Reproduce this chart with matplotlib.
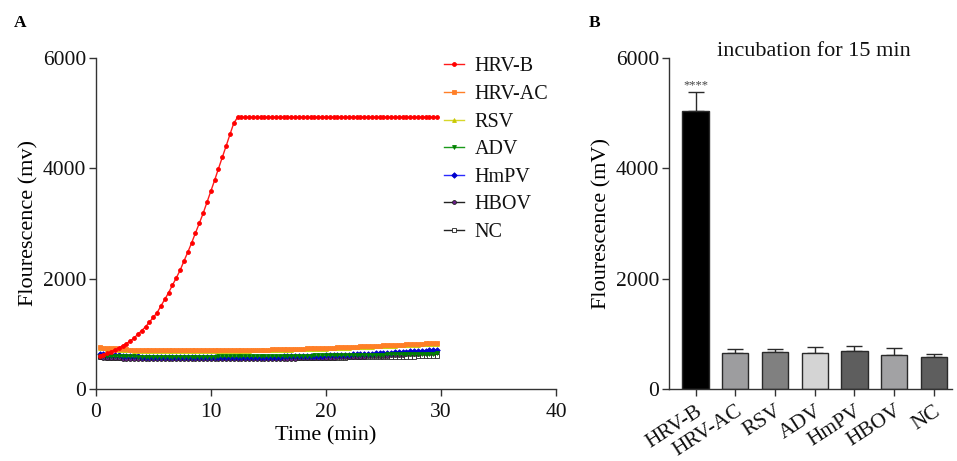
import numpy as np
import matplotlib
matplotlib.use("Agg")
import matplotlib.pyplot as plt

plt.rcParams['font.family'] = ['Liberation Serif', 'DejaVu Serif']

# ---------------- Panel A data ----------------
time_min = np.arange(1, 90) / 3.0   # sampling every 20 s

hrv_b = [605, 625, 650, 680, 710, 745, 785, 825, 870, 925,
         993, 1060, 1128, 1213, 1297, 1383, 1505, 1623, 1745, 1880,
         2012, 2150, 2317, 2477, 2645, 2825, 3000, 3180, 3380, 3580,
         3780, 3990, 4195, 4400, 4610, 4815, 4920] + [4920] * 52

hrv_ac = [755, 750, 745, 740, 735, 730, 725, 720, 715,
          710, 708, 706, 705, 704, 703, 702, 701, 700, 700, 700, 700, 700, 700, 700, 700,
          700, 700, 700, 700, 700, 701, 702, 703, 704, 705, 706, 707, 708, 709, 710, 711,
          712, 713, 714, 715,
          717, 719, 721, 723, 725, 727, 729, 731, 733, 735, 737, 739, 741, 743, 745,
          748, 751, 754, 757, 760, 763, 766, 769, 772, 775, 778, 781, 784, 787, 790,
          794, 797, 800, 804, 807, 811, 814, 818, 821, 825, 828, 832, 836, 840]

rsv = [740, 735, 730, 725, 720, 715, 710, 705, 700,
       697, 695, 693, 692, 691, 690, 689, 688, 688, 688, 688, 688, 688, 688, 688, 688,
       688, 688, 688, 688, 688, 689, 690, 691, 692, 693, 694, 695, 696, 697, 698, 699,
       700, 701, 702, 703,
       705, 707, 709, 711, 713, 715, 717, 719, 721, 723, 725, 727, 729, 731, 733,
       736, 739, 742, 745, 748, 751, 754, 757, 760, 763, 766, 769, 772, 775, 778,
       781, 784, 787, 790, 793, 796, 799, 802, 805, 808, 811, 814, 817, 820]

adv = [600, 598, 596, 595, 594, 593, 592, 591, 590,
       590, 589, 589, 588, 588, 588, 588, 588, 588, 588, 588, 588, 588, 588, 588, 588,
       588, 588, 588, 588, 589, 589, 590, 590, 591, 591, 592, 592, 593, 593, 594, 594,
       595, 595, 596, 596,
       597, 598, 599, 600, 601, 602, 603, 604, 605, 606, 607, 608, 609, 610, 611,
       612, 613, 614, 615, 616, 617, 618, 619, 620, 621, 622, 623, 624, 625, 626,
       627, 628, 629, 630, 631, 632, 633, 634, 635, 637, 639, 641, 643, 645]

hmpv = [635, 630, 625, 620, 615, 610, 605, 600, 597,
        594, 591, 588, 585, 583, 581, 580, 579, 578, 578, 578, 578, 578, 578, 578, 578,
        578, 578, 578, 578, 578, 578, 578, 578, 579, 579, 580, 580, 581, 581, 582, 582,
        583, 584, 585, 586,
        587, 588, 589, 590, 591, 592, 593, 594, 596, 598, 600, 602, 604, 606, 608,
        611, 614, 617, 620, 623, 626, 629, 632, 635, 638, 641, 644, 647, 650, 653,
        657, 661, 665, 669, 673, 677, 681, 685, 689, 693, 697, 700, 703, 705]

hbov = [572, 568, 564, 560, 557, 554, 551, 549, 547,
        546, 545, 544, 543, 543, 542, 542, 542, 542, 542, 542, 542, 542, 542, 542, 542,
        542, 542, 542, 542, 542, 542, 542, 542, 542, 542, 543, 543, 543, 544, 544, 544,
        545, 545, 546, 546,
        547, 548, 549, 550, 551, 552, 553, 554, 555, 556, 558, 560, 562, 564, 566,
        568, 570, 572, 574, 576, 578, 580, 582, 585, 588, 591, 594, 597, 600, 603,
        607, 611, 615, 619, 623, 627, 631, 635, 640, 645, 650, 655, 660, 665]

nc = [575, 572, 569, 566, 564, 562, 560, 559, 558,
      557, 556, 556, 555, 555, 555, 555, 555, 555, 555, 555, 555, 555, 555, 555, 555,
      555, 555, 555, 555, 555, 555, 555, 555, 555, 555, 556, 556, 556, 556, 557, 557,
      557, 557, 558, 558,
      558, 559, 559, 560, 560, 561, 561, 562, 562, 563, 563, 564, 564, 565, 566,
      567, 568, 569, 570, 571, 572, 573, 574, 575, 576, 577, 578, 579, 580, 581,
      582, 583, 584, 585, 586, 587, 588, 589, 590, 591, 592, 593, 594, 595]

series_names = ["HRV-B", "HRV-AC", "RSV", "ADV", "HmPV", "HBOV", "NC"]

# ---------------- Panel B data ----------------
bar_labels = ["HRV-B", "HRV-AC", "RSV", "ADV", "HmPV", "HBOV", "NC"]
bar_means = [5040, 658, 672, 658, 683, 622, 580]
bar_err = [330, 62, 48, 109, 102, 115, 60]
bar_colors = ["#000000", "#9d9d9f", "#808080", "#d4d4d4", "#5e5e5e", "#a2a2a4", "#5e5e5e"]

# ---------------- Figure ----------------
fig = plt.figure(figsize=(9.57, 4.61), dpi=100)
axA = fig.add_axes([0.100, 0.156, 0.481, 0.719])
axB = fig.add_axes([0.699, 0.156, 0.296, 0.719])

axis_col = "#333333"

styles = [
    dict(color="#ff1a1a", marker="o", mfc="#ff0000", mec="#ff0000"),
    dict(color="#ff7f27", marker="s", mfc="#ff7f27", mec="#ff7f27"),
    dict(color="#d7d72a", marker="^", mfc="#c8c800", mec="#c8c800"),
    dict(color="#1a9a1a", marker="v", mfc="#008000", mec="#008000"),
    dict(color="#2a2aff", marker="D", mfc="#0000cc", mec="#0000cc"),
    dict(color="#222222", marker="o", mfc="#6a1b8a", mec="#222222"),
    dict(color="#222222", marker="s", mfc="white", mec="#222222"),
]
data_series = [hrv_b, hrv_ac, rsv, adv, hmpv, hbov, nc]
draw_order = [6, 5, 3, 4, 2, 1, 0]
handles = [None] * 7
for k in draw_order:
    st = styles[k]
    ln, = axA.plot(time_min, data_series[k], color=st["color"], lw=1.0,
                   marker=st["marker"], ms=2.8, mfc=st["mfc"], mec=st["mec"],
                   mew=0.6, label=series_names[k], zorder=3 + (7 - k) * 0.1)
    handles[k] = ln

axA.set_xlim(0, 40)
axA.set_ylim(0, 6000)
axA.set_xticks([0, 10, 20, 30, 40])
axA.set_yticks([0, 2000, 4000, 6000])
axA.set_xlabel("Time (min)", fontsize=16, labelpad=3)
axA.set_ylabel("Flourescence (mv)", fontsize=16, labelpad=3)
for ax in (axA, axB):
    for s in ("top", "right"):
        ax.spines[s].set_visible(False)
    for s in ("left", "bottom"):
        ax.spines[s].set_color(axis_col)
        ax.spines[s].set_linewidth(1.0)
    ax.tick_params(axis="both", labelsize=15.5, length=5, width=1.0, color=axis_col,
                   pad=2, labelcolor="#111111")
axA.tick_params(axis="x", pad=5)

leg = axA.legend(handles=handles, labels=series_names, loc="upper left",
                 bbox_to_anchor=(0.74, 1.025), frameon=False, fontsize=14.5,
                 handlelength=0.95, handletextpad=0.55, labelspacing=0.42,
                 borderaxespad=0, markerscale=1.0)
for t in leg.get_texts():
    t.set_color("#111111")

# ---------------- Panel B ----------------
xpos = np.arange(len(bar_labels))
axB.bar(xpos, bar_means, width=0.66, color=bar_colors, edgecolor="#2a2a2a",
        linewidth=1.0, zorder=2)
axB.errorbar(xpos, bar_means, yerr=[np.zeros(len(bar_err)), bar_err], fmt="none",
             ecolor="#2a2a2a", elinewidth=1.0, capsize=5.5, capthick=1.0, zorder=1)
axB.text(xpos[0], bar_means[0] + bar_err[0] + 20, "****", ha="center", va="bottom",
         fontsize=9, color="#444444")
axB.set_xlim(-0.67, 6.46)
axB.set_ylim(0, 6000)
axB.set_yticks([0, 2000, 4000, 6000])
axB.set_xticks(xpos)
axB.set_xticklabels(bar_labels, rotation=33, ha="right", rotation_mode="anchor",
                    fontsize=15.5)
axB.tick_params(axis="x", pad=4)
axB.set_ylabel("Flourescence (mV)", fontsize=16, labelpad=3)
axB.text(0.51, 0.99, "incubation for 15 min", transform=axB.transAxes,
         ha="center", va="bottom", fontsize=16, color="#111111")

fig.text(0.014, 0.95, "A", fontsize=12.5, fontweight="bold", va="center", ha="left")
fig.text(0.615, 0.95, "B", fontsize=12.5, fontweight="bold", va="center", ha="left")

fig.savefig("out.png", dpi=100)
